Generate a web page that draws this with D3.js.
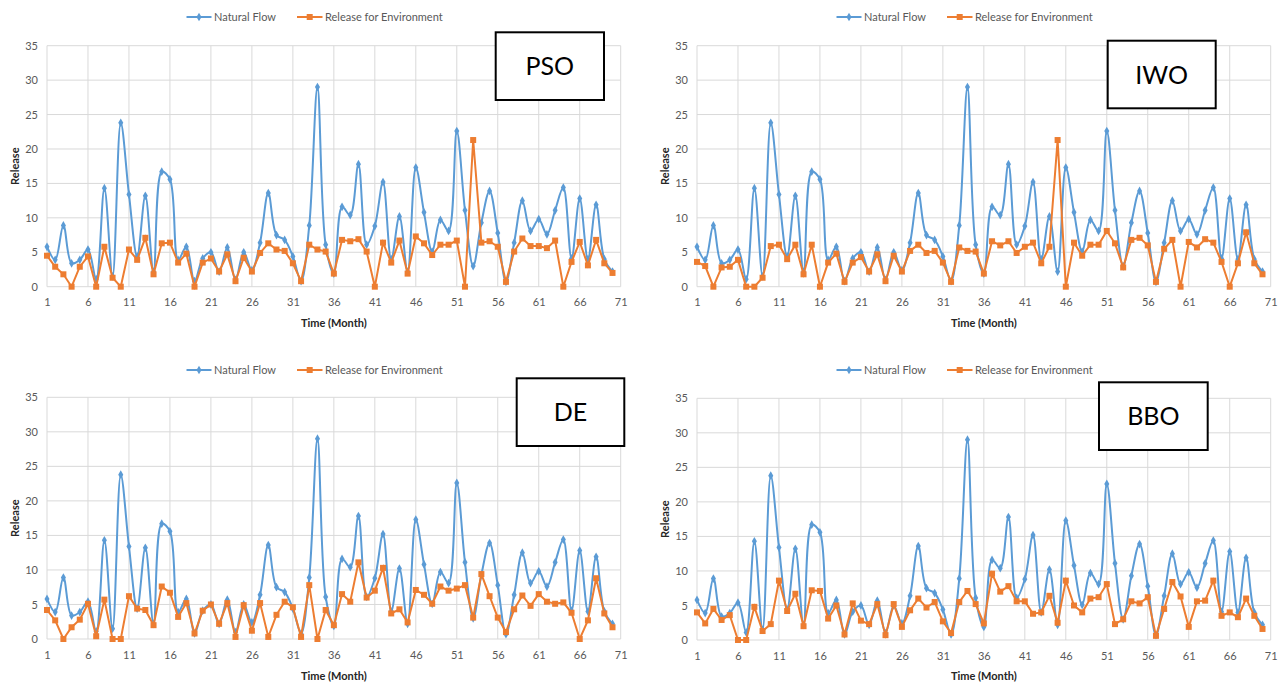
<!DOCTYPE html>
<html>
<head>
<meta charset="utf-8">
<script src="https://cdn.jsdelivr.net/npm/d3@7"></script>
<style>
  html, body { margin: 0; padding: 0; background: #fff; }
  svg { display: block; font-family: Lato, "Open Sans", sans-serif; }
</style>
</head>
<body>
<svg id="chart" width="1285" height="686"></svg>
<script>
// Monthly series, months 1..70
const months = d3.range(1, 71);

const naturalFlow = [
  5.8, 3.9, 8.9, 3.4, 3.9, 5.4, 1.1, 14.3, 1.5, 23.8,
  13.4, 4.4, 13.2, 2.2, 16.7, 15.6, 3.9, 5.8, 0.8, 4.1,
  5.0, 2.2, 5.7, 1.0, 5.0, 2.4, 6.4, 13.6, 7.5, 6.8,
  4.4, 0.8, 8.9, 29.0, 6.1, 1.9, 11.6, 10.4, 17.8, 6.1,
  8.8, 15.2, 4.0, 10.2, 2.2, 17.3, 10.8, 5.1, 9.7, 8.1,
  22.6, 11.1, 3.0, 9.3, 13.9, 7.8, 0.7, 6.4, 12.5, 8.1,
  9.8, 7.6, 11.1, 14.4, 4.1, 12.8, 4.0, 11.9, 4.0, 2.2
];

const releasePSO = [
  4.5, 2.9, 1.8, 0, 2.9, 4.4, 0, 5.8, 1.3, 0,
  5.4, 3.9, 7.1, 1.8, 6.3, 6.4, 3.5, 4.8, 0, 3.5,
  4.1, 2.2, 4.7, 0.8, 4.2, 2.2, 4.9, 6.3, 5.4, 5.2,
  3.4, 0.8, 6.1, 5.4, 5.1, 1.9, 6.8, 6.6, 6.9, 5.1,
  0, 6.4, 3.5, 6.7, 1.9, 7.3, 6.3, 4.6, 6.1, 6.1,
  6.7, 0, 21.3, 6.4, 6.6, 5.8, 0.7, 5.1, 7.0, 5.9,
  5.9, 5.6, 6.7, 0, 3.6, 6.5, 3.1, 6.8, 3.4, 2.0
];

const releaseIWO = [
  3.6, 3.0, 0, 2.8, 2.9, 3.9, 0, 0, 1.3, 5.9,
  6.1, 4.0, 6.1, 1.8, 6.1, 0, 3.5, 4.8, 0.7, 3.5,
  4.3, 2.2, 4.7, 0.8, 4.5, 2.2, 5.2, 6.1, 4.9, 5.2,
  3.5, 0.7, 5.7, 5.2, 5.1, 1.9, 6.6, 6.0, 6.6, 4.9,
  5.8, 6.4, 3.4, 5.8, 21.3, 0, 6.4, 4.5, 6.1, 6.1,
  8.1, 6.3, 2.8, 6.8, 7.1, 6.0, 0.7, 5.5, 6.8, 0,
  6.5, 5.7, 6.9, 6.4, 3.6, 0, 3.4, 7.9, 3.4, 1.8
];

const releaseDE = [
  4.2, 2.7, 0, 1.7, 2.8, 5.1, 0.4, 5.7, 0, 0,
  6.2, 4.4, 4.2, 2.0, 7.6, 6.7, 3.2, 5.2, 0.8, 4.1,
  5.0, 2.2, 5.2, 0.3, 4.9, 1.2, 5.2, 0.3, 3.5, 5.4,
  4.6, 0.3, 7.8, 0, 4.2, 2.0, 6.5, 5.4, 11.1, 6.0,
  7.0, 10.3, 3.7, 4.3, 2.4, 7.1, 6.4, 5.1, 7.6, 7.0,
  7.3, 7.8, 3.1, 9.4, 6.2, 3.1, 1.0, 4.3, 6.3, 4.8,
  6.5, 5.4, 5.1, 5.3, 3.8, 0, 2.7, 8.8, 3.7, 1.7
];

const releaseBBO = [
  4.0, 2.4, 4.5, 2.9, 3.6, 0, 0, 4.8, 1.3, 2.3,
  8.6, 4.2, 6.7, 2.0, 7.2, 7.1, 3.1, 5.0, 0.8, 5.3,
  2.8, 2.3, 5.2, 0.7, 5.2, 1.9, 4.3, 6.0, 4.7, 5.5,
  2.7, 1.0, 5.5, 7.1, 5.2, 2.4, 9.6, 7.0, 7.8, 5.6,
  5.6, 3.8, 4.0, 6.4, 2.5, 8.6, 5.0, 4.0, 6.0, 6.2,
  8.1, 2.3, 3.0, 5.6, 5.3, 6.2, 0.6, 4.5, 8.4, 6.3,
  1.9, 5.6, 5.7, 8.6, 3.5, 4.0, 3.3, 6.0, 3.5, 1.6
];

const xTicks = [1, 6, 11, 16, 21, 26, 31, 36, 41, 46, 51, 56, 61, 66, 71];
const yTicks = [0, 5, 10, 15, 20, 25, 30, 35];
const seriesNames = ["Natural Flow", "Release for Environment"];
const xTitle = "Time (Month)";
const yTitle = "Release";

const COLOR_FLOW = "#5B9BD5";
const COLOR_REL = "#ED7D31";
const GRID = "#D9D9D9";
const TEXT = "#595959";

// Panel frames: plot-area edges plus the method-label box
const panels = [
  { name: "PSO", rel: releasePSO, ox: 0,   left: 47,  right: 620.7,  top: 45.7,  bottom: 286.7, legendY: 17,  titleY: 327, box: [495.7, 32.3, 108.3, 67.7] },
  { name: "IWO", rel: releaseIWO, ox: 650, left: 697, right: 1270.7, top: 45.7,  bottom: 286.7, legendY: 17,  titleY: 327, box: [1107.7, 40.7, 108, 67.6] },
  { name: "DE",  rel: releaseDE,  ox: 0,   left: 47,  right: 620.7,  top: 397.3, bottom: 639,   legendY: 370, titleY: 680, box: [516.7, 378.3, 107.6, 67.7] },
  { name: "BBO", rel: releaseBBO, ox: 650, left: 697, right: 1270.7, top: 398.3, bottom: 640,   legendY: 370, titleY: 680, box: [1099, 382.3, 108.7, 67.7] }
];

const svg = d3.select("#chart");

const diamond = d3.symbol().type(d3.symbolDiamond).size(22);

panels.forEach(p => {
  const g = svg.append("g");
  const x = d3.scaleLinear().domain([1, 71]).range([p.left, p.right]);
  const y = d3.scaleLinear().domain([0, 35]).range([p.bottom, p.top]);

  // gridlines
  g.append("g").selectAll("line.v").data(xTicks).join("line")
    .attr("x1", d => x(d)).attr("x2", d => x(d))
    .attr("y1", p.top).attr("y2", p.bottom)
    .attr("stroke", GRID).attr("stroke-width", 1);
  g.append("g").selectAll("line.h").data(yTicks).join("line")
    .attr("x1", p.left).attr("x2", p.right)
    .attr("y1", d => y(d)).attr("y2", d => y(d))
    .attr("stroke", GRID).attr("stroke-width", 1);

  // axes (labels only, Excel style)
  const xAxis = g.append("g").attr("transform", `translate(0,${p.bottom})`)
    .call(d3.axisBottom(x).tickValues(xTicks).tickSize(0).tickPadding(12).tickFormat(d3.format("d")));
  const yAxis = g.append("g").attr("transform", `translate(${p.left},0)`)
    .call(d3.axisLeft(y).tickValues(yTicks).tickSize(0).tickPadding(9).tickFormat(d3.format("d")));
  [xAxis, yAxis].forEach(a => {
    a.select(".domain").remove();
    a.selectAll("text").attr("fill", TEXT).attr("font-size", 11).attr("font-family", "Lato, sans-serif");
  });

  // axis titles
  g.append("text")
    .attr("x", (p.left + p.right) / 2).attr("y", p.titleY)
    .attr("text-anchor", "middle").attr("font-size", 11).attr("font-weight", "bold")
    .attr("fill", "#262626").text(xTitle);
  g.append("text")
    .attr("transform", `translate(${p.ox + 19},${(p.top + p.bottom) / 2}) rotate(-90)`)
    .attr("text-anchor", "middle").attr("font-size", 11).attr("font-weight", "bold")
    .attr("fill", "#262626").text(yTitle);

  // series
  const flowLine = d3.line().x((d, i) => x(months[i])).y(d => y(d)).curve(d3.curveCatmullRom.alpha(0.5));
  const relLine = d3.line().x((d, i) => x(months[i])).y(d => y(d));

  g.append("path").datum(naturalFlow).attr("d", flowLine)
    .attr("fill", "none").attr("stroke", COLOR_FLOW).attr("stroke-width", 2);
  g.append("g").selectAll("path").data(naturalFlow).join("path")
    .attr("d", diamond)
    .attr("transform", (d, i) => `translate(${x(months[i])},${y(d)})`)
    .attr("fill", COLOR_FLOW);

  g.append("path").datum(p.rel).attr("d", relLine)
    .attr("fill", "none").attr("stroke", COLOR_REL).attr("stroke-width", 2);
  g.append("g").selectAll("rect").data(p.rel).join("rect")
    .attr("x", (d, i) => x(months[i]) - 3).attr("y", d => y(d) - 3)
    .attr("width", 6).attr("height", 6)
    .attr("fill", COLOR_REL);

  // legend
  const lg = g.append("g").attr("transform", `translate(${p.ox},${p.legendY})`);
  lg.append("line").attr("x1", 186.5).attr("x2", 211.5).attr("y1", 0).attr("y2", 0)
    .attr("stroke", COLOR_FLOW).attr("stroke-width", 2);
  lg.append("path").attr("d", diamond).attr("transform", "translate(199,0)").attr("fill", COLOR_FLOW);
  lg.append("text").attr("x", 214).attr("y", 0).attr("dy", "0.35em")
    .attr("font-size", 11).attr("fill", TEXT).text(seriesNames[0]);
  lg.append("line").attr("x1", 297).attr("x2", 322.5).attr("y1", 0).attr("y2", 0)
    .attr("stroke", COLOR_REL).attr("stroke-width", 2);
  lg.append("rect").attr("x", 306.7).attr("y", -3).attr("width", 6).attr("height", 6).attr("fill", COLOR_REL);
  lg.append("text").attr("x", 325).attr("y", 0).attr("dy", "0.35em")
    .attr("font-size", 11).attr("fill", TEXT).text(seriesNames[1]);

  // method label box
  const [bx, by, bw, bh] = p.box;
  g.append("rect").attr("x", bx).attr("y", by).attr("width", bw).attr("height", bh)
    .attr("fill", "#fff").attr("stroke", "#000").attr("stroke-width", 2);
  g.append("text").attr("x", bx + bw / 2).attr("y", by + bh / 2).attr("dy", "0.36em")
    .attr("text-anchor", "middle").attr("font-size", 25).attr("fill", "#000")
    .attr("font-family", "Lato, sans-serif").text(p.name);
});
</script>
</body>
</html>
